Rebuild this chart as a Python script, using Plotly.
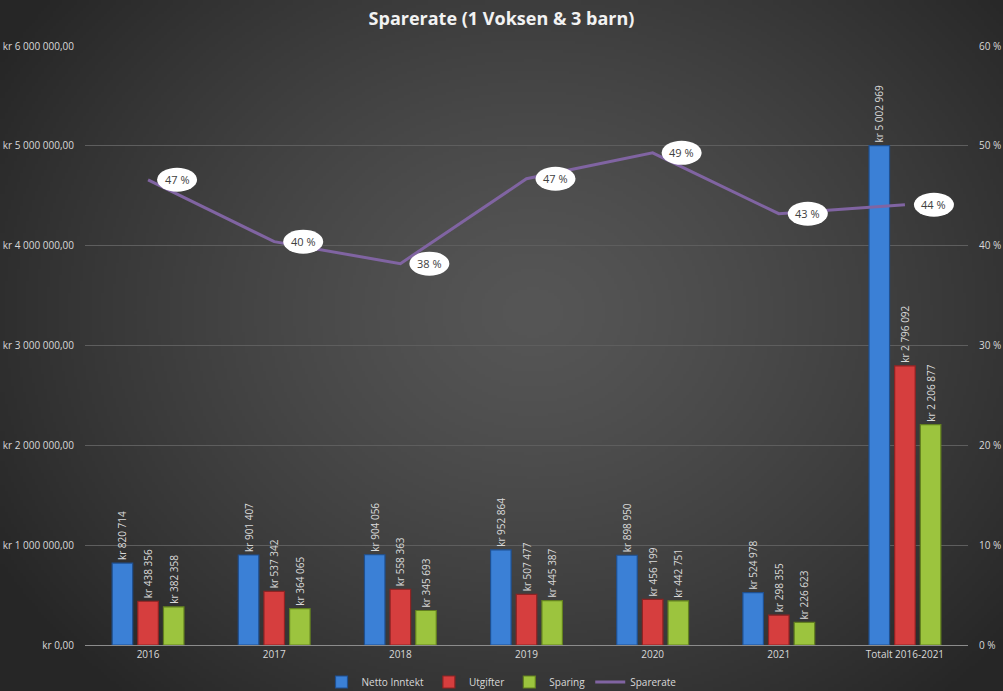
import base64, struct, zlib
import numpy as np
import plotly.graph_objects as go

categories = ["2016", "2017", "2018", "2019", "2020", "2021", "Totalt 2016-2021"]
netto = [820714, 901407, 904056, 952864, 898950, 524978, 5002969]
utgifter = [438356, 537342, 558363, 507477, 456199, 298355, 2796092]
sparing = [382358, 364065, 345693, 445387, 442751, 226623, 2206877]
sparerate = [46.6, 40.4, 38.2, 46.7, 49.3, 43.2, 44.1]
rate_labels = ["47 %", "40 %", "38 %", "47 %", "49 %", "43 %", "44 %"]
left_ticks = [0, 1000000, 2000000, 3000000, 4000000, 5000000, 6000000]
left_ticktext = ["kr 0,00", "kr 1 000 000,00", "kr 2 000 000,00", "kr 3 000 000,00",
                 "kr 4 000 000,00", "kr 5 000 000,00", "kr 6 000 000,00"]
right_ticks = [0, 10, 20, 30, 40, 50, 60]
right_ticktext = ["0 %", "10 %", "20 %", "30 %", "40 %", "50 %", "60 %"]

W, H = 1003, 691

# ---- radial gradient background as PNG ----
def make_png(w, h):
    ys, xs = np.mgrid[0:h, 0:w]
    cx, cy = 0.53 * w, 0.45 * h
    r = np.sqrt(((xs - cx) / (0.62 * w)) ** 2 + ((ys - cy) / (0.75 * h)) ** 2)
    r = np.clip(r, 0, 1)
    inner, outer = 0x56, 0x26
    v = (inner + (outer - inner) * r ** 1.3).astype(np.uint8)
    raw = b"".join(b"\x00" + bytes(np.repeat(row, 3)) for row in v)
    def chunk(t, d):
        c = struct.pack(">I", len(d)) + t + d
        return c + struct.pack(">I", zlib.crc32(t + d) & 0xffffffff)
    png = b"\x89PNG\r\n\x1a\n" + chunk(b"IHDR", struct.pack(">IIBBBBB", w, h, 8, 2, 0, 0, 0))
    png += chunk(b"IDAT", zlib.compress(raw, 9)) + chunk(b"IEND", b"")
    return "data:image/png;base64," + base64.b64encode(png).decode()

bg = make_png(334, 230)

def fmt_kr(v):
    s = f"{v:,}".replace(",", " ")
    return "kr " + s

font_fam = "Open Sans, Noto Sans, sans-serif"
label_col = "#d9d9d9"

fig = go.Figure()
series = [
    ("Netto Inntekt", netto, "#3b80d6", "#1f4f8f"),
    ("Utgifter", utgifter, "#d63e3e", "#8f2323"),
    ("Sparing", sparing, "#9cc43e", "#62801f"),
]
for name, vals, col, edge in series:
    fig.add_trace(go.Bar(
        x=categories, y=vals, name=name,
        marker=dict(color=col, line=dict(color=edge, width=1.2)),
        text=[fmt_kr(v) for v in vals], textposition="outside", textangle=-90,
        textfont=dict(color=label_col, size=10, family=font_fam),
        cliponaxis=False, constraintext="none",
    ))

fig.add_trace(go.Scatter(
    x=categories, y=sparerate, name="Sparerate", yaxis="y2", mode="lines",
    line=dict(color="#8064a2", width=3),
))

shapes = []
annotations = []
for i, (v, t) in enumerate(zip(sparerate, rate_labels)):
    shapes.append(dict(type="circle", xref="x", yref="y2", xsizemode="pixel", ysizemode="pixel",
                       xanchor=i, yanchor=v, x0=9, x1=49, y0=-12, y1=12,
                       fillcolor="white", line=dict(width=0), layer="above"))
    annotations.append(dict(x=i, y=v, xref="x", yref="y2", text=t, showarrow=False,
                            xshift=29, font=dict(color="#404040", size=11, family=font_fam)))

x0d, x1d = 85 / W, 968 / W
y0d, y1d = 1 - 645 / H, 1 - 46 / H

fig.update_layout(
    width=W, height=H,
    margin=dict(l=0, r=0, t=0, b=0, autoexpand=False),
    paper_bgcolor="#3a3a3a", plot_bgcolor="rgba(0,0,0,0)",
    images=[dict(source=bg, xref="paper", yref="paper", x=0, y=1, sizex=1, sizey=1,
                 sizing="stretch", layer="below", xanchor="left", yanchor="top")],
    title=dict(text="<b>Sparerate (1 Voksen &amp; 3 barn)</b>", x=0.5, xanchor="center",
               y=1 - 19 / H, yanchor="middle",
               font=dict(color="#f2f2f2", size=18, family=font_fam)),
    barmode="group", bargap=0.39, bargroupgap=0.2,
    xaxis=dict(domain=[x0d, x1d], showgrid=False, showline=True, linecolor="#8c8c8c",
               linewidth=1, ticks="", tickfont=dict(color=label_col, size=10, family=font_fam),
               anchor="y", automargin=False),
    yaxis=dict(domain=[y0d, y1d], range=[0, 6000000], tickvals=left_ticks, ticktext=left_ticktext,
               gridcolor="#5e5e5e", gridwidth=1, zeroline=False, showline=False, ticks="",
               ticklabelstandoff=10, automargin=False,
               tickfont=dict(color=label_col, size=10, family=font_fam)),
    yaxis2=dict(overlaying="y", side="right", range=[0, 60], tickvals=right_ticks,
                ticktext=right_ticktext, showgrid=False, zeroline=False, showline=False, ticks="",
                ticklabelstandoff=10, anchor="x", automargin=False,
                tickfont=dict(color=label_col, size=10, family=font_fam)),
    legend=dict(orientation="h", x=0.5, xanchor="center", y=1 - 682 / H, yanchor="middle",
                font=dict(color=label_col, size=10, family=font_fam), bgcolor="rgba(0,0,0,0)",
                itemwidth=30, tracegroupgap=0),
    shapes=shapes, annotations=annotations,
)

fig.write_html("out.html")
